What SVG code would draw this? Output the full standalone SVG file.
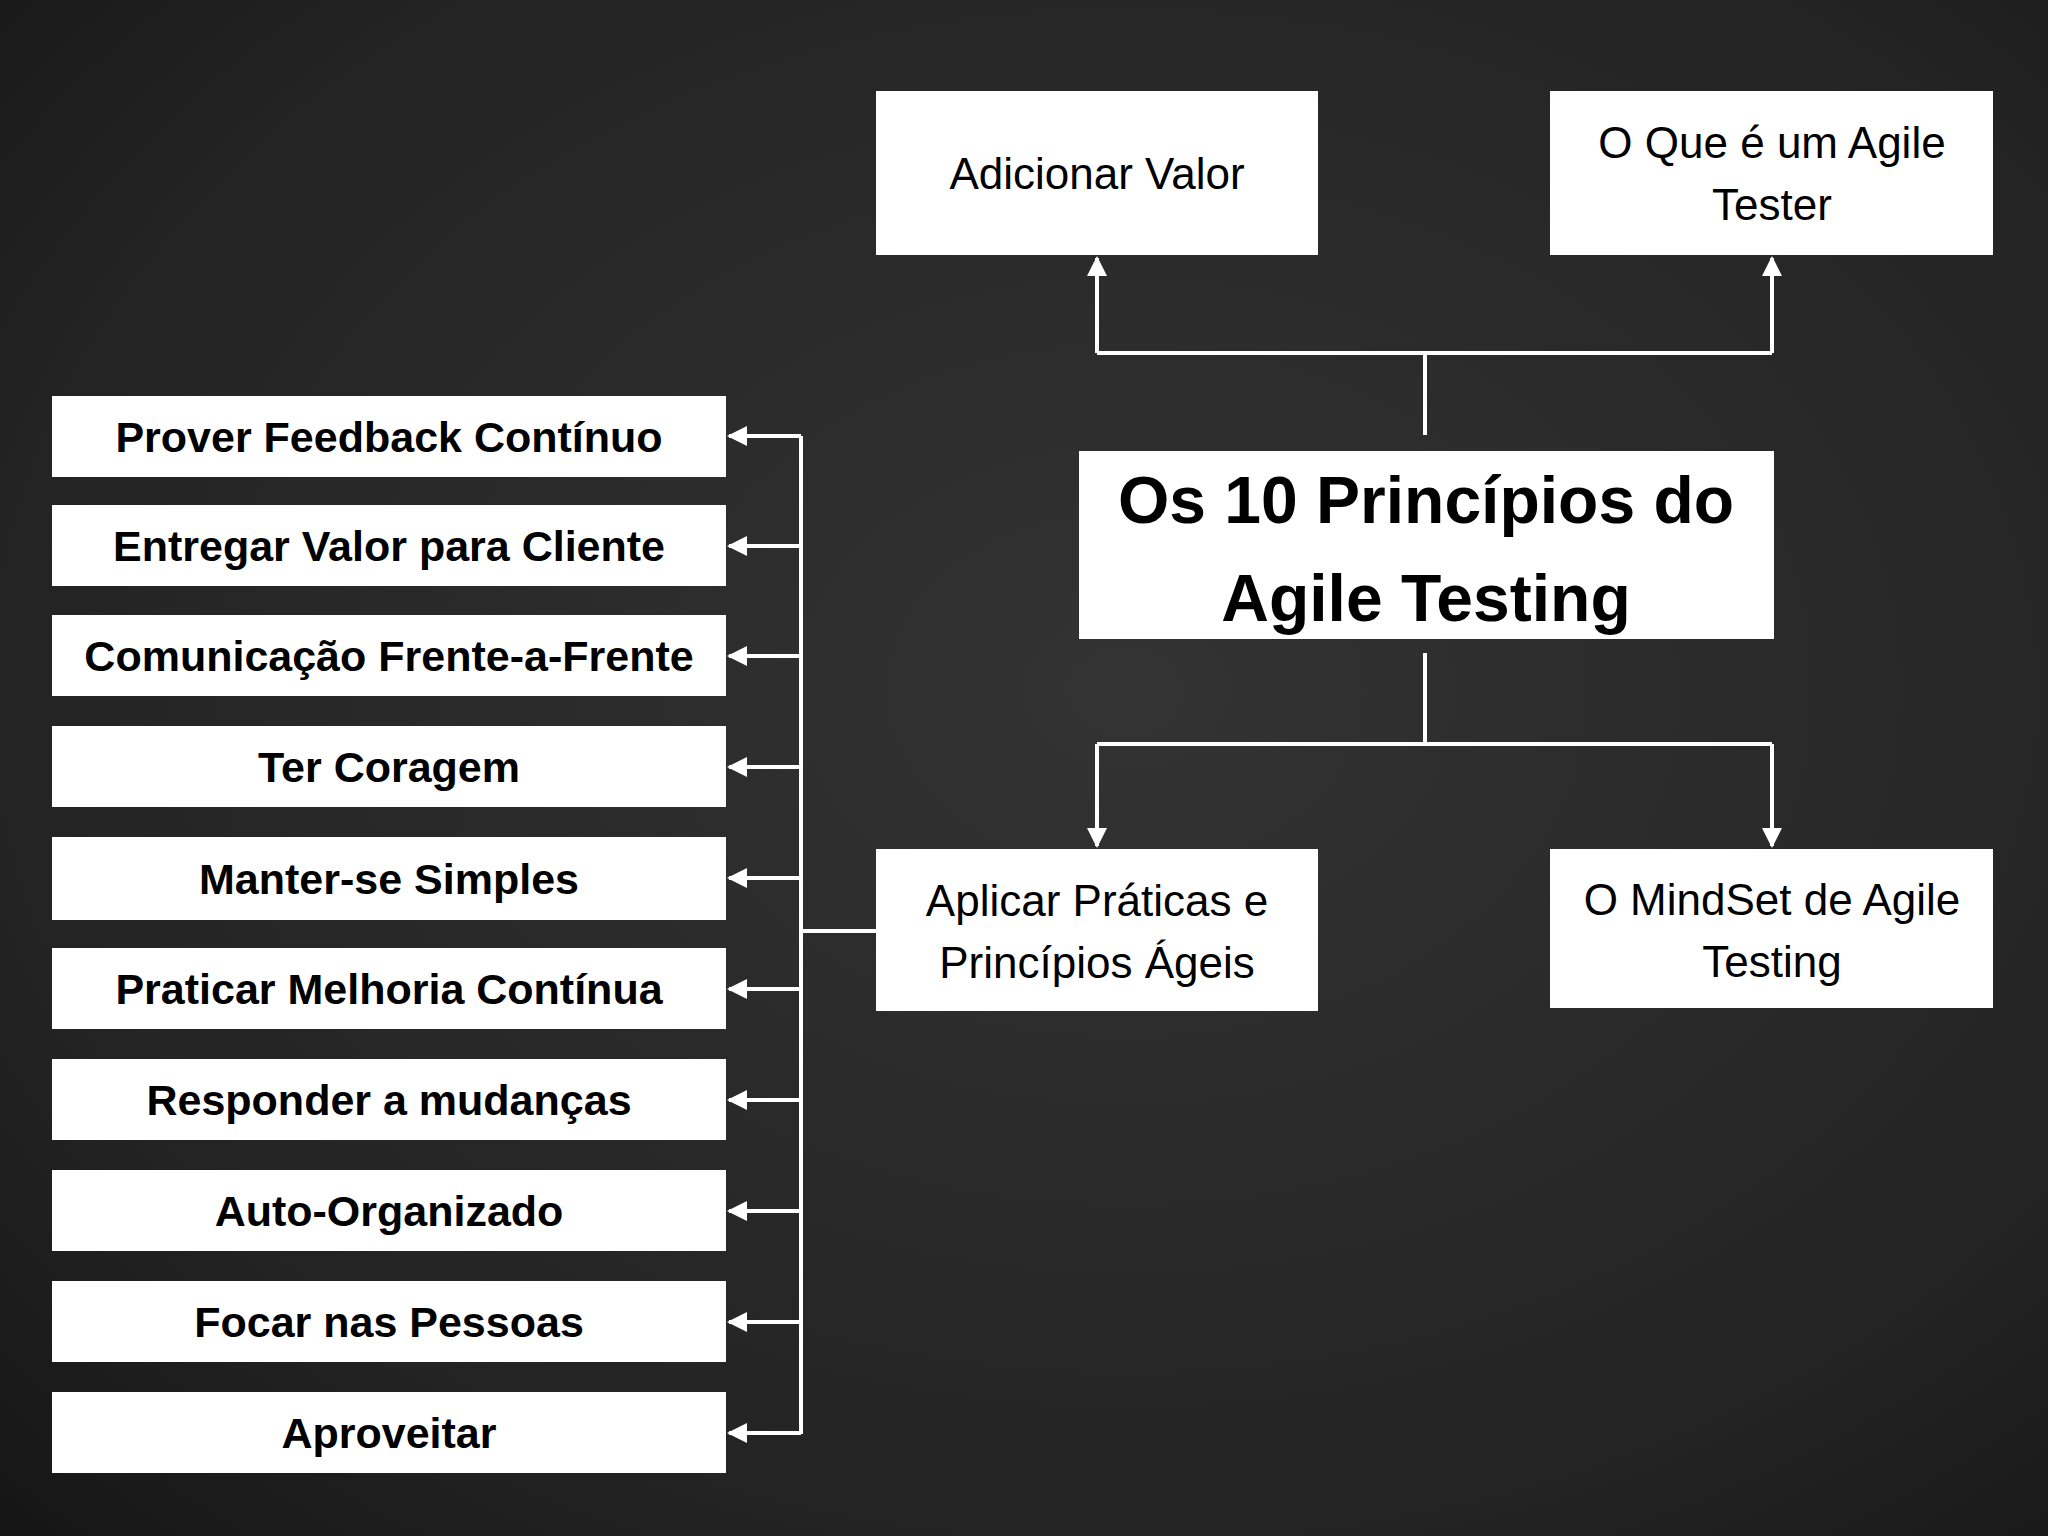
<svg xmlns="http://www.w3.org/2000/svg" width="2048" height="1536" viewBox="0 0 2048 1536">
<defs>
<radialGradient id="bg" cx="0.55" cy="0.45" r="0.8">
<stop offset="0" stop-color="#333333"/><stop offset="0.7" stop-color="#232323"/><stop offset="1" stop-color="#141414"/>
</radialGradient>
<marker id="ah" viewBox="0 0 10 10" refX="9" refY="5" markerWidth="5" markerHeight="5" orient="auto-start-reverse" markerUnits="strokeWidth">
<path d="M0,0 L10,5 L0,10 z" fill="#ffffff"/>
</marker>
<style>
.box{fill:#ffffff}
.t{font-family:"Liberation Sans",Arial,sans-serif;fill:#000;text-anchor:middle}
.lb{font-size:43px;font-weight:bold}
.rg{font-size:44px}
.ti{font-size:66px;font-weight:bold}
.c{stroke:#ffffff;stroke-width:4;fill:none}
.a{marker-end:url(#ah)}
</style>
</defs>
<rect width="2048" height="1536" fill="url(#bg)"/>
<g id="connectors">
<path class="c" d="M1425 435 V353 M1097 353 H1772"/>
<path class="c a" d="M1097 353 V258"/>
<path class="c a" d="M1772 353 V258"/>
<path class="c" d="M1425 653 V744 M1097 744 H1772"/>
<path class="c a" d="M1097 744 V846"/>
<path class="c a" d="M1772 744 V846"/>
<path class="c" d="M876 931 H801 M801 436 V1434"/>
<path class="c a" d="M801 436 H729"/>
<path class="c a" d="M801 546 H729"/>
<path class="c a" d="M801 656 H729"/>
<path class="c a" d="M801 767 H729"/>
<path class="c a" d="M801 878 H729"/>
<path class="c a" d="M801 989 H729"/>
<path class="c a" d="M801 1100 H729"/>
<path class="c a" d="M801 1211 H729"/>
<path class="c a" d="M801 1322 H729"/>
<path class="c a" d="M801 1433 H729"/>
</g>
<g id="center"><rect class="box" x="1079" y="451" width="695" height="188"/>
<text class="t ti" x="1426" y="523">Os 10 Princípios do</text><text class="t ti" x="1426" y="621">Agile Testing</text></g>
<g id="adicionar"><rect class="box" x="876" y="91" width="442" height="164"/><text class="t rg" x="1097" y="189">Adicionar Valor</text></g>
<g id="oque"><rect class="box" x="1550" y="91" width="443" height="164"/><text class="t rg" x="1772" y="158">O Que é um Agile</text><text class="t rg" x="1772" y="220">Tester</text></g>
<g id="aplicar"><rect class="box" x="876" y="849" width="442" height="162"/><text class="t rg" x="1097" y="916">Aplicar Práticas e</text><text class="t rg" x="1097" y="978">Princípios Ágeis</text></g>
<g id="mindset"><rect class="box" x="1550" y="849" width="443" height="159"/><text class="t rg" x="1772" y="915">O MindSet de Agile</text><text class="t rg" x="1772" y="977">Testing</text></g>
<g id="p1"><rect class="box" x="52" y="396" width="674" height="81"/><text class="t lb" x="389" y="452">Prover Feedback Contínuo</text></g>
<g id="p2"><rect class="box" x="52" y="505" width="674" height="81"/><text class="t lb" x="389" y="561">Entregar Valor para Cliente</text></g>
<g id="p3"><rect class="box" x="52" y="615" width="674" height="81"/><text class="t lb" x="389" y="671">Comunicação Frente-a-Frente</text></g>
<g id="p4"><rect class="box" x="52" y="726" width="674" height="81"/><text class="t lb" x="389" y="782">Ter Coragem</text></g>
<g id="p5"><rect class="box" x="52" y="837" width="674" height="83"/><text class="t lb" x="389" y="894">Manter-se Simples</text></g>
<g id="p6"><rect class="box" x="52" y="948" width="674" height="81"/><text class="t lb" x="389" y="1004">Praticar Melhoria Contínua</text></g>
<g id="p7"><rect class="box" x="52" y="1059" width="674" height="81"/><text class="t lb" x="389" y="1115">Responder a mudanças</text></g>
<g id="p8"><rect class="box" x="52" y="1170" width="674" height="81"/><text class="t lb" x="389" y="1226">Auto-Organizado</text></g>
<g id="p9"><rect class="box" x="52" y="1281" width="674" height="81"/><text class="t lb" x="389" y="1337">Focar nas Pessoas</text></g>
<g id="p10"><rect class="box" x="52" y="1392" width="674" height="81"/><text class="t lb" x="389" y="1448">Aproveitar</text></g>
</svg>
